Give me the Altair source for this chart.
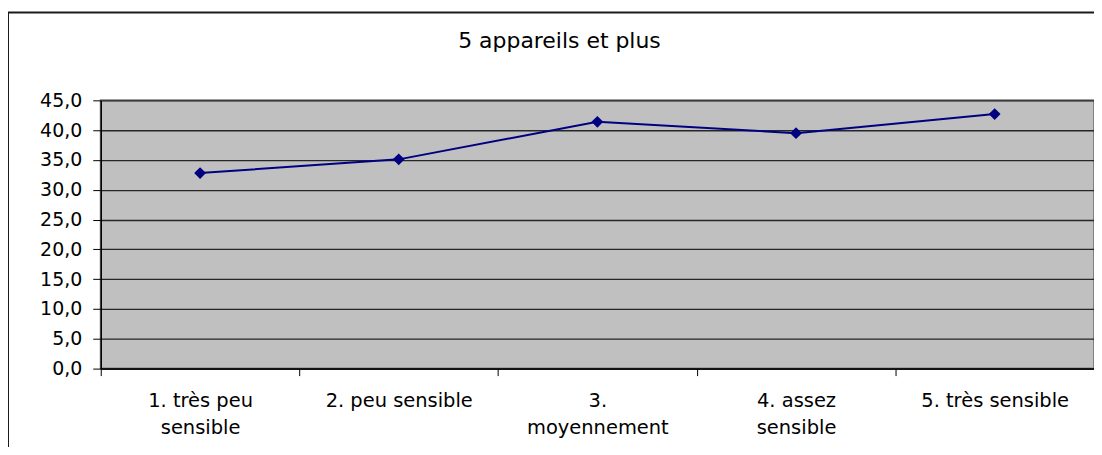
import altair as alt
import pandas as pd

categories = ["1. très peu sensible", "2. peu sensible", "3. moyennement",
              "4. assez sensible", "5. très sensible"]
label_lines = [["1. très peu", "sensible"], ["2. peu sensible"], ["3.", "moyennement"],
               ["4. assez", "sensible"], ["5. très sensible"]]
values = [32.8, 35.1, 41.4, 39.5, 42.7]
y_ticks = [0, 5, 10, 15, 20, 25, 30, 35, 40, 45]
title_text = "5 appareils et plus"

df = pd.DataFrame({"cat": categories, "val": values})

expr = "''"
for c, lines in zip(categories, label_lines):
    arr = "[" + ",".join("'" + l + "'" for l in lines) + "]"
    expr = f"datum.label == '{c}' ? {arr} : ({expr})"

FONT = "DejaVu Sans"
W, H = 996, 269

x_enc = alt.X("cat:N", sort=categories, title=None,
              scale=alt.Scale(paddingInner=0, paddingOuter=0),
              axis=alt.Axis(labelAngle=0, labelExpr=expr, labelFont=FONT, labelFontSize=19.5,
                            labelColor="#000", labelLineHeight=27, labelPadding=16,
                            tickBand="extent", tickSize=7, tickColor="#000",
                            domainColor="#000", domainWidth=1.5, labelBaseline="top",
                            grid=False))
y_enc = alt.Y("val:Q", title=None,
              scale=alt.Scale(domain=[0, 45], nice=False, zero=True),
              axis=alt.Axis(values=y_ticks, labelExpr="replace(format(datum.value, '.1f'), '.', ',')",
                            labelFont=FONT, labelFontSize=19, labelColor="#000",
                            labelPadding=11, tickSize=8, tickColor="#000",
                            domainColor="#000", domainWidth=1.5,
                            grid=True, gridColor="#262626", gridWidth=1.3))

base = alt.Chart(df)
line = base.mark_line(color="#000080", strokeWidth=2).encode(x=x_enc, y=y_enc)
pts = base.mark_point(shape="diamond", filled=True, size=140, color="#000080", opacity=1).encode(x=x_enc, y=y_enc)

one = alt.Data(values=[{"t": title_text}])
title = alt.Chart(one).mark_text(font=FONT, fontSize=22, color="#000", align="center",
                                 baseline="alphabetic").encode(
    x=alt.value(460), y=alt.value(-52), text="t:N")
top_border = alt.Chart(one).mark_rule(color="#1a1a1a", strokeWidth=2).encode(
    x=alt.value(-93), x2=alt.value(1010), y=alt.value(-88))
left_border = alt.Chart(one).mark_rule(color="#1a1a1a", strokeWidth=2).encode(
    x=alt.value(-93), y=alt.value(-88), y2=alt.value(360))

chart = alt.layer(line, pts, title, top_border, left_border).properties(
    width=W, height=H,
    autosize=alt.AutoSizeParams(type="none"),
    padding={"left": 93, "top": 92, "right": 0, "bottom": 78},
    background="white",
).configure_view(fill="#C0C0C0", stroke="#808080", strokeWidth=2)

chart.save("out.html", embed_options={"renderer": "svg", "actions": False})
